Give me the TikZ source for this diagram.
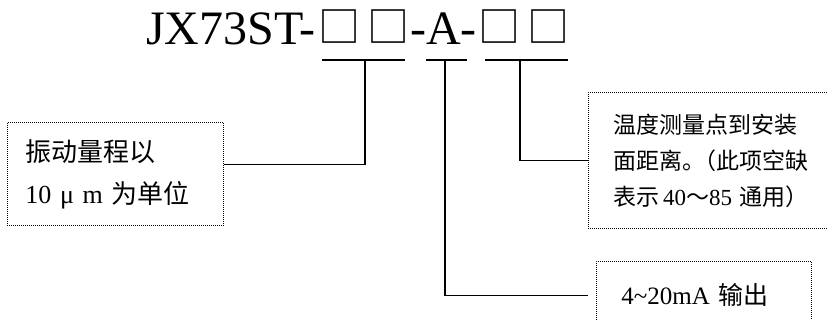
\documentclass[tikz,border=0pt]{standalone}
\usepackage{fontspec}
\setmainfont{Liberation Serif}
\newfontfamily\cjk{Noto Sans CJK SC}
\newcommand{\sqbox}{{\cjk\fontsize{42}{42}\selectfont\raisebox{2.5pt}{□}}}
\begin{document}
\begin{tikzpicture}[x=1pt,y=-1pt,
  dotbox/.style={draw,line width=0.8pt,dash pattern=on 0.8pt off 1.2pt,rectangle,anchor=north west,inner ysep=0pt,align=left},
  conn/.style={line width=1.4pt},
  uline/.style={line width=1.6pt}]
\useasboundingbox (0,0) rectangle (827,320);
\clip (0,0) rectangle (827,320);
% title
\node[anchor=base west,inner sep=0pt,font=\fontsize{48}{50}\selectfont] (title) at (146,45)
  {JX73ST-\kern3pt\sqbox\kern7pt\sqbox\kern1pt-A-\kern2pt\sqbox\kern7pt\sqbox};
% underlines
\coordinate (u1) at (365,60);
\coordinate (u2) at (445,60);
\coordinate (u3) at (520,60);
\draw[uline] (322,60) -- (405,60);
\draw[uline] (426,60) -- (467,60);
\draw[uline] (485,60) -- (568,60);
% boxes
\node[dotbox,minimum width=216,minimum height=103,text width=180,inner xsep=18,
  font=\fontsize{26}{42}\selectfont] (b1) at (7,122)
  {{\cjk 振动量程以}\\10 μ m {\cjk 为单位}};
\node[dotbox,minimum width=240,minimum height=136,text width=200,inner xsep=25,
  font=\fontsize{23}{36}\selectfont] (b2) at (588,92)
  {{\cjk 温度测量点到安装}\\{\cjk 面距离。\kern-0.5em（此项空缺}\\{\cjk 表示}\,40{\cjk ～}85 {\cjk 通用）}};
\node[dotbox,minimum width=215,minimum height=68,text width=165,inner xsep=25,
  font=\fontsize{25}{30}\selectfont] (b3) at (596,261)
  {4\textasciitilde20mA {\cjk 输出}};
\coordinate (e3) at ([xshift=-8pt]b3.west);
% connectors
\draw[conn] (u1) |- ([yshift=9.5pt]b1.east);
\draw[conn] (u3) |- (b2.west);
\draw[conn] (u2) |- (e3);
\end{tikzpicture}
\end{document}
